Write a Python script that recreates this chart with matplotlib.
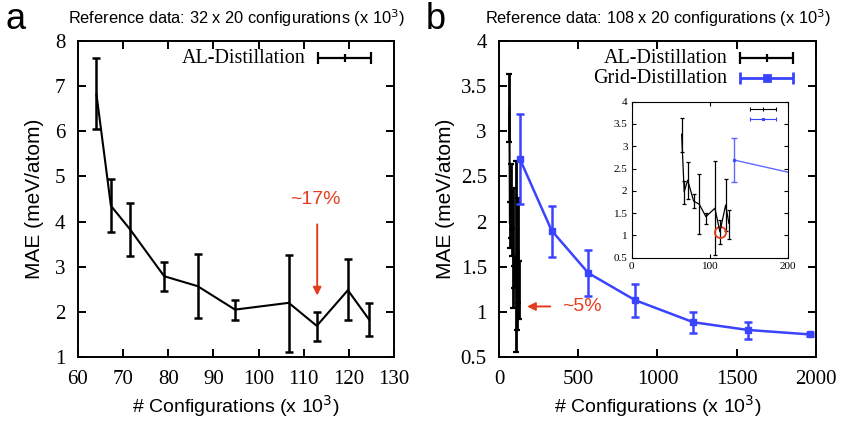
import matplotlib.pyplot as plt

# panel a: AL-Distillation, reference 32 x 20
a_x = [64.1, 67.3, 71.6, 79.1, 86.5, 94.8, 106.7, 112.9, 119.8, 124.5]
a_y = [6.82, 4.35, 3.82, 2.79, 2.57, 2.05, 2.20, 1.69, 2.48, 1.83]
a_lo = [6.05, 3.76, 3.24, 2.46, 1.87, 1.81, 1.12, 1.36, 1.81, 1.47]
a_hi = [7.63, 4.95, 4.42, 3.11, 3.28, 2.27, 3.27, 2.00, 3.17, 2.20]

# panel b: AL-Distillation, reference 108 x 20
b_al_x = [63.8, 67.1, 71.5, 79.1, 86.3, 94.8, 106.3, 112.7, 120.0, 124.2]
b_al_y = [3.27, 1.98, 2.24, 1.77, 1.70, 1.42, 1.61, 1.08, 1.68, 1.27]
b_al_lo = [2.88, 1.71, 1.82, 1.62, 1.04, 1.26, 0.55, 0.80, 1.10, 0.92]
b_al_hi = [3.64, 2.22, 2.64, 1.92, 2.37, 1.51, 2.67, 1.34, 2.26, 1.56]

# panel b: Grid-Distillation
grid_x = [131, 331, 563, 858, 1227, 1570, 1964]
grid_y = [2.69, 1.90, 1.43, 1.13, 0.885, 0.80, 0.75]
grid_lo = [2.19, 1.61, 1.18, 0.94, 0.77, 0.70, 0.73]
grid_hi = [3.19, 2.17, 1.68, 1.31, 1.00, 0.89, 0.77]

BLUE = '#3a44ff'
RED = '#e63c1e'
SERIF = 'Liberation Serif'
SANS = 'Liberation Sans'

plt.rcParams['font.family'] = SANS


def errs(y, lo, hi):
    return [[v - l for v, l in zip(y, lo)], [h - v for v, h in zip(y, hi)]]


def style_axes(ax, size=15, tl=6, lw=1.4, pad=9):
    for s in ax.spines.values():
        s.set_linewidth(lw)
    ax.tick_params(direction='in', top=True, right=True, length=tl, width=lw,
                   labelsize=size, pad=pad)
    for lab in ax.get_xticklabels() + ax.get_yticklabels():
        lab.set_fontfamily(SERIF)


def legend_sample(ax, x, y, color, marker='|', lw=2.0, cap=4, ms=6):
    # gnuplot-like legend sample: horizontal bar with end caps
    ax.errorbar([x], [y], xerr=0.084, color=color, lw=lw, capsize=cap,
                capthick=lw, marker=marker, ms=ms, mew=lw,
                transform=ax.transAxes, clip_on=False)


fig = plt.figure(figsize=(8.41, 4.23), dpi=100)

# ---- panel a ----
ax1 = fig.add_axes([0.0927, 0.156, 0.3757, 0.747])
ax1.errorbar(a_x, a_y, yerr=errs(a_y, a_lo, a_hi), color='black', lw=1.5,
             elinewidth=1.8, capsize=3, capthick=1.8)
ax1.set_xlim(60, 130)
ax1.set_ylim(1, 8)
ax1.set_xticks(range(60, 131, 10))
ax1.set_yticks(range(1, 9))
style_axes(ax1)
ax1.set_xlabel('# Configurations (x 10$^3$)', fontsize=14, labelpad=3)
ax1.set_ylabel('MAE (meV/atom)', fontsize=15, labelpad=8)
ax1.set_title('Reference data: 32 x 20 configurations (x 10$^3$)', fontsize=11.8, pad=12)
ax1.text(0.72, 0.945, 'AL-Distillation', transform=ax1.transAxes, ha='right',
         va='center', fontsize=14.5, family=SERIF)
legend_sample(ax1, 0.845, 0.945, 'black', lw=1.6)
ax1.annotate('', xy=(113, 2.3), xytext=(113, 4.0),
             arrowprops=dict(arrowstyle='-|>', color=RED, lw=1.4, mutation_scale=12))
ax1.text(112.6, 4.5, '~17%', color=RED, fontsize=14, ha='center', va='center')
fig.text(0.006, 0.955, 'a', fontsize=26, va='center')

# ---- panel b ----
ax2 = fig.add_axes([0.5937, 0.156, 0.3762, 0.747])
ax2.errorbar(b_al_x, b_al_y, yerr=errs(b_al_y, b_al_lo, b_al_hi), color='black',
             lw=1.5, elinewidth=2.0, capsize=2, capthick=1.6)
ax2.errorbar(grid_x, grid_y, yerr=errs(grid_y, grid_lo, grid_hi), color=BLUE,
             lw=1.8, elinewidth=1.8, capsize=3, capthick=1.8, marker='s', ms=4)
ax2.set_xlim(0, 2000)
ax2.set_ylim(0.5, 4)
ax2.set_xticks(range(0, 2001, 500))
ax2.set_yticks([0.5, 1, 1.5, 2, 2.5, 3, 3.5, 4])
ax2.set_yticklabels(['0.5', '1', '1.5', '2', '2.5', '3', '3.5', '4'])
style_axes(ax2)
ax2.set_xlabel('# Configurations (x 10$^3$)', fontsize=14, labelpad=3)
ax2.set_ylabel('MAE (meV/atom)', fontsize=15, labelpad=4)
ax2.set_title('Reference data: 108 x 20 configurations (x 10$^3$)', fontsize=11.8, pad=12)
ax2.text(0.72, 0.945, 'AL-Distillation', transform=ax2.transAxes, ha='right',
         va='center', fontsize=14.5, family=SERIF)
ax2.text(0.72, 0.883, 'Grid-Distillation', transform=ax2.transAxes, ha='right',
         va='center', fontsize=14.5, family=SERIF)
legend_sample(ax2, 0.845, 0.945, 'black', lw=1.6)
legend_sample(ax2, 0.845, 0.883, BLUE, marker='s', ms=4)
ax2.annotate('', xy=(158, 1.06), xytext=(340, 1.06),
             arrowprops=dict(arrowstyle='-|>', color=RED, lw=1.4, mutation_scale=12))
ax2.text(400, 1.06, '~5%', color=RED, fontsize=14, ha='left', va='center')
fig.text(0.506, 0.955, 'b', fontsize=26, va='center')

# ---- inset ----
ax3 = fig.add_axes([0.7511, 0.3908, 0.1862, 0.3688])
ax3.errorbar(b_al_x, b_al_y, yerr=errs(b_al_y, b_al_lo, b_al_hi), color='black',
             lw=0.9, elinewidth=0.9, capsize=1.5, capthick=0.9)
ax3.errorbar(grid_x, grid_y, yerr=errs(grid_y, grid_lo, grid_hi), color=BLUE,
             lw=1.0, elinewidth=1.0, capsize=2, capthick=1.0, marker='s', ms=2,
             alpha=0.8)
ax3.plot(b_al_x[7], b_al_y[7], 'o', mfc='none', mec=RED, ms=8, mew=1.3)
ax3.set_xlim(0, 200)
ax3.set_ylim(0.5, 4)
ax3.set_xticks([0, 100, 200])
ax3.set_yticks([0.5, 1, 1.5, 2, 2.5, 3, 3.5, 4])
ax3.set_yticklabels(['0.5', '1', '1.5', '2', '2.5', '3', '3.5', '4'])
style_axes(ax3, size=8, tl=3, lw=0.8, pad=3)
legend_sample(ax3, 0.84, 0.955, 'black', lw=0.8, cap=1.5, ms=3)
legend_sample(ax3, 0.84, 0.888, BLUE, marker='s', lw=0.8, cap=1.5, ms=2)

fig.savefig('out.png', dpi=100)
